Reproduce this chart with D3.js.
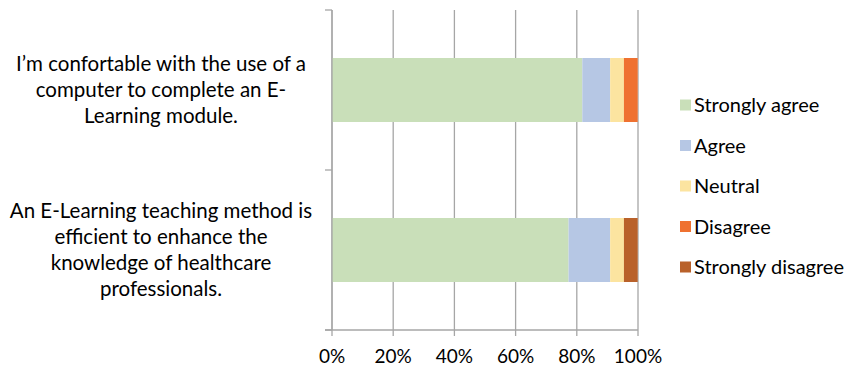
<!DOCTYPE html>
<html><head><meta charset="utf-8">
<script src="https://cdn.jsdelivr.net/npm/d3@7"></script>
<style>body{margin:0;background:#fff}text{font-family:Lato,"Open Sans",sans-serif;fill:#000}</style>
</head><body><svg id="c" width="853" height="372"></svg>
<script>
const categories = [
  ["I\u2019m confortable with the use of a","computer to complete an E-","Learning module."],
  ["An E-Learning teaching method is","efficient to enhance the","knowledge of healthcare","professionals."]
];
const seriesNames = ["Strongly agree","Agree","Neutral","Disagree","Strongly disagree"];
const seriesColors = ["#c9dfb9","#b6c7e4","#fce4a0","#ef7130","#b9612a"];
const stronglyAgree = [81.8, 77.3];
const agree = [9.1, 13.6];
const neutral = [4.5, 4.5];
const disagree = [4.5, 0];
const stronglyDisagree = [0, 4.5];
const xTicks = [0,20,40,60,80,100];

const svg = d3.select("#c");
const x = d3.scaleLinear().domain([0,100]).range([332,638]);
const y = d3.scaleBand().domain([0,1]).range([10,330]).paddingInner(0.6).paddingOuter(0.3);

svg.append("g").selectAll("line").data(xTicks).join("line")
  .attr("x1",d=>x(d)).attr("x2",d=>x(d)).attr("y1",10).attr("y2",336)
  .attr("stroke","#a6a6a6").attr("stroke-width",1.3);

const rows = [stronglyAgree, agree, neutral, disagree, stronglyDisagree];
const data = categories.map((c,i)=>{const o={i}; seriesNames.forEach((s,k)=>o[s]=rows[k][i]); return o;});
const stack = d3.stack().keys(seriesNames)(data);
svg.append("g").selectAll("g").data(stack).join("g")
  .attr("fill",(d,k)=>seriesColors[k])
  .selectAll("rect").data(d=>d).join("rect")
  .attr("x",d=>x(d[0])).attr("width",d=>x(d[1])-x(d[0]))
  .attr("y",d=>y(d.data.i)).attr("height",y.bandwidth());

svg.append("line").attr("x1",332).attr("x2",332).attr("y1",10).attr("y2",330).attr("stroke","#a6a6a6").attr("stroke-width",1.3);
svg.append("line").attr("x1",325).attr("x2",638).attr("y1",330).attr("y2",330).attr("stroke","#a6a6a6").attr("stroke-width",1.3);
svg.append("g").selectAll("line").data([10,170,330]).join("line")
  .attr("x1",325).attr("x2",332).attr("y1",d=>d).attr("y2",d=>d)
  .attr("stroke","#a6a6a6").attr("stroke-width",1.3);

svg.append("g").selectAll("text").data(xTicks).join("text")
  .attr("x",d=>x(d)).attr("y",363).attr("text-anchor","middle")
  .style("font-size","19px").text(d=>d+"%");

const lineH = 26;
categories.forEach((lines,i)=>{
  const cy = y(i)+y.bandwidth()/2;
  const t = svg.append("text").attr("text-anchor","middle").style("font-size","20.5px");
  lines.forEach((l,j)=>{
    t.append("tspan").attr("x",161).attr("y",cy + (j-(lines.length-1)/2)*lineH + 7).text(l);
  });
});

const lg = svg.append("g").selectAll("g").data(seriesNames).join("g")
  .attr("transform",(d,k)=>`translate(680,${105+k*40.5})`);
lg.append("rect").attr("x",0).attr("y",-5.5).attr("width",11).attr("height",11).attr("fill",(d,k)=>seriesColors[k]);
lg.append("text").attr("x",14).attr("y",7).style("font-size","20px").text(d=>d);
</script></body></html>
